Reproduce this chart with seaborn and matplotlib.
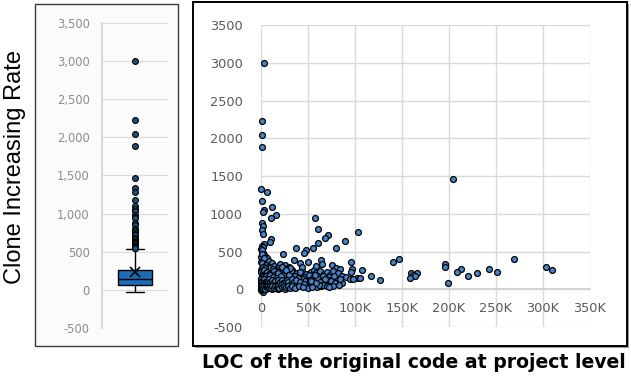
import numpy as np
import pandas as pd
import matplotlib
matplotlib.use("Agg")
import matplotlib.pyplot as plt
from matplotlib.patches import Rectangle
from matplotlib.ticker import FuncFormatter, StrMethodFormatter
import seaborn as sns

# ---- data: (LOC in thousands, clone increasing rate) ----
high_points = [
    (3.2, 3000), (1.4, 2230), (1.4, 2040), (1.4, 1890), (204.6, 1460),
    (0.0, 1330), (6.7, 1285), (1.4, 1176), (11.7, 1096), (3.5, 1053),
    (1.8, 1030), (15.6, 987), (11.0, 950), (57.4, 947), (1.4, 876),
    (2.5, 845), (61, 801), (1.4, 790), (103, 757), (1.8, 735), (71, 722),
    (68, 678), (10.6, 670), (89, 634), (9.6, 625), (61, 612), (3, 600),
    (1, 575), (2, 560), (37, 546), (55.6, 546), (79.5, 546), (0.5, 540),
]
upper_points = [
    (47.9, 524), (45.7, 485), (23, 462), (0.8, 500), (2.2, 480), (1, 455),
    (4, 440), (0.3, 430), (6, 415), (147, 396), (269, 396), (140, 360),
    (35, 383), (64, 383), (2, 390), (8, 375), (0.5, 365), (41, 348),
    (50, 361), (96, 361), (196, 340), (65, 340), (12, 350), (20, 330),
    (3, 335), (75, 317), (25, 320), (14, 305), (30, 300), (196, 295),
    (303, 295), (80, 287), (9, 290), (18, 285), (1.5, 280), (84, 273),
    (96.5, 273), (212.8, 273), (243, 273), (27, 270), (5, 265), (60, 268),
    (33, 262), (16, 262),
]
middle_points = [
    (107, 250), (310, 251), (96, 229), (209, 229), (250.7, 229), (230, 215),
    (160, 215), (166, 215), (162, 190), (220, 172), (164, 170), (117, 172),
    (102, 155), (158, 150), (105, 150),
    (0.5, 250), (2, 240), (4, 230), (7, 245), (10, 235), (13, 250), (17, 225),
    (21, 240), (24, 215), (28, 230), (31, 205), (34, 220), (38, 210),
    (44, 240), (48, 200), (53, 230), (56, 255), (59, 210), (63, 240),
    (67, 200), (70, 225), (73, 190), (77, 245), (82, 210), (86, 175),
    (90, 160), (1, 200), (3, 185), (6, 195), (8, 170), (11, 205), (15, 180),
    (19, 195), (22, 165), (26, 185), (29, 160), (36, 175), (42, 180),
    (46, 160), (51, 190), (55, 150), (62, 165), (66, 180), (72, 160),
    (78, 170), (1.2, 165), (4.5, 155), (9, 150), (12, 175), (20, 210),
    (25, 200), (32, 245),
]
lower_points = [
    (199, 83), (127, 128), (86, 88), (95, 132), (98, 132), (51, 96),
    (0.5, 140), (2, 130), (4, 120), (6, 135), (8, 110), (10, 125), (13, 100),
    (16, 130), (18, 115), (21, 90), (23, 135), (27, 105), (30, 120),
    (33, 95), (36, 80), (40, 110), (45, 130), (49, 100), (54, 90), (58, 120),
    (61, 135), (65, 105), (69, 80), (72, 125), (76, 95), (81, 115),
    (84, 140), (0.3, 100), (1.5, 85), (3, 75), (5, 95), (7, 70), (9.5, 80),
    (11, 140), (14, 70), (17, 85), (19, 140), (22, 75), (24, 110), (26, 130),
    (28, 80), (31, 140), (34, 110), (38, 70), (43, 85), (47, 115), (52, 125),
    (57, 75), (63, 95), (68, 135), (74, 110), (79, 85), (1, 120), (2.5, 105),
]
bottom_points = [
    (74.5, 45), (64, 40), (23.7, 40), (0.2, 0), (0.8, 10), (1.2, 25),
    (2, -30), (3, 5), (4, 50), (5, 20), (6, 35), (7.5, 15), (9, 55),
    (10.5, 30), (12, 10), (13.5, 45), (15, 25), (17, 60), (19, 35),
    (20.5, 15), (22, 55), (25, 25), (27, 45), (29, 60), (32, 30), (35, 50),
    (39, 55), (44, 40), (48, 60), (52, 45), (56, 55), (60, 35), (66, 60),
    (70, 50), (77, 40), (83, 60), (0.4, 55), (1.6, 40), (2.8, 60),
    (3.6, 30), (5.5, 5), (6.5, 50), (8, 60), (11, 45), (14, 35), (16, 50),
    (18, 10), (21, 40), (24, 60), (26, 15), (0.1, -15), (0.6, 30), (1, -5),
    (2.2, 45), (4.5, 35), (12.5, 60), (30, 45), (37, 35), (50, 20),
    (62, 55), (72, 30),
]
# overlapping points in the dense corner near the origin
dense_points = [
    (0.7, 520), (1.3, 470), (3.5, 410), (0.9, 345), (5, 320), (7, 300),
    (10, 280), (13, 275), (2.6, 300), (4, 285), (22, 290), (31, 280),
    (44, 300), (58, 310),
    (0.4, 225), (1.8, 215), (3.2, 250), (5, 210), (6.5, 230), (8.5, 200),
    (11.5, 220), (14, 240), (16, 200), (18.5, 215), (23, 185), (27, 250),
    (30, 190), (0.6, 180), (2.5, 160), (5.5, 175), (7.5, 145), (10, 185),
    (13, 160), (17, 150), (21, 175), (39, 150), (41, 225), (57, 185),
    (0.2, 130), (0.8, 110), (1.4, 95), (2, 75), (3, 135), (3.8, 100),
    (4.8, 80), (6, 115), (7, 95), (8.5, 130), (9.5, 100), (10.5, 70),
    (12, 120), (13, 85), (15, 105), (16.5, 75), (18, 125), (20, 100),
    (22, 120), (23.5, 85), (25, 95), (27.5, 125), (29, 100), (31.5, 75),
    (33, 130), (35, 100), (37, 120), (42, 95), (46, 75), (53, 105), (59, 85),
    (0.3, 20), (0.9, 45), (1.5, 5), (2.3, 20), (3.2, 40), (4, 10), (5, 50),
    (6, 25), (7, 45), (8, 20), (9.5, 40), (11, 20), (12, 50), (13.5, 15),
    (15, 45), (16.5, 30), (18, 50), (19.5, 20), (21, 55), (22.5, 30),
    (24, 45), (25.5, 10), (27, 30), (28.5, 50), (31, 15), (33, 40),
    (36, 20), (40, 45), (45, 25), (54, 35),
]

points = (high_points + upper_points + middle_points + lower_points
          + bottom_points + dense_points)
df = pd.DataFrame(points, columns=["loc_k", "rate"])

x_ticks = [0, 50, 100, 150, 200, 250, 300, 350]
y_ticks = [-500, 0, 500, 1000, 1500, 2000, 2500, 3000, 3500]

W, H = 631, 377


def fig_rect(x0, y0, x1, y1):
    # pixel box (top-left origin) -> figure fraction [l, b, w, h]
    return [x0 / W, 1 - y1 / H, (x1 - x0) / W, (y1 - y0) / H]


sns.set_theme(style="white")
plt.rcParams["font.family"] = ["DejaVu Sans"]
plt.rcParams["axes.unicode_minus"] = False

fig = plt.figure(figsize=(W / 100, H / 100), dpi=100)

# panel frames (behind the axes)
l, b, w, h = fig_rect(35, 4, 178, 346)
fig.patches.append(Rectangle((l, b), w, h, transform=fig.transFigure,
                             facecolor="#fbfbfb", edgecolor="#3a3a3a", lw=1.0, zorder=-10))
l, b, w, h = fig_rect(195, 4, 629, 348)
fig.patches.append(Rectangle((l, b), w, h, transform=fig.transFigure,
                             facecolor="#9a9a9a", edgecolor="none", zorder=-11))
l, b, w, h = fig_rect(193, 2, 627, 346)
fig.patches.append(Rectangle((l, b), w, h, transform=fig.transFigure,
                             facecolor="white", edgecolor="black", lw=1.4, zorder=-10))

# ---- left: box plot ----
ax_box = fig.add_axes(fig_rect(102, 22.7, 168, 328))
ax_box.set_facecolor("none")
sns.boxplot(y=df["rate"], ax=ax_box, width=0.52, color="#1c6cb8",
            saturation=1, linecolor="black", linewidth=1,
            showmeans=True,
            meanprops=dict(marker="x", markeredgecolor="black", markersize=7,
                           markeredgewidth=1.2),
            flierprops=dict(marker="o", markerfacecolor="#1f4e79",
                            markeredgecolor="black", markersize=4.2,
                            markeredgewidth=0.8))
ax_box.set_xlim(-0.5, 0.5)
ax_box.set_ylim(-500, 3500)
ax_box.set_yticks(y_ticks)
ax_box.yaxis.set_major_formatter(StrMethodFormatter("{x:,.0f}"))
ax_box.set_xticks([])
ax_box.set_xlabel("")
ax_box.set_ylabel("")
ax_box.grid(axis="y", color="#dcdcdc", lw=0.9)
ax_box.set_axisbelow(True)
for side in ["top", "right", "bottom"]:
    ax_box.spines[side].set_visible(False)
ax_box.spines["left"].set_color("#d4d4d4")
ax_box.tick_params(axis="y", length=0, pad=9, labelsize=8.3, labelcolor="#8c8c8c")

# ---- right: scatter ----
ax = fig.add_axes(fig_rect(261, 25.3, 590, 327))
ax.set_facecolor("none")
sns.scatterplot(data=df, x="loc_k", y="rate", ax=ax, s=18, color="#4686cc",
                edgecolor="black", linewidth=0.9, zorder=3, clip_on=False)
ax.set_xlim(0, 350)
ax.set_ylim(-500, 3500)
ax.set_xticks(x_ticks)
ax.set_yticks(y_ticks)
ax.xaxis.set_major_formatter(FuncFormatter(lambda v, p: "0" if v == 0 else f"{int(v)}K"))
ax.grid(True, color="#d9d9d9", lw=1.0)
ax.set_axisbelow(True)
for side in ["top", "right", "left"]:
    ax.spines[side].set_visible(False)
ax.spines["bottom"].set_position(("data", 0))
ax.spines["bottom"].set_color("#d0d0d0")
ax.tick_params(axis="x", length=0, pad=9, labelsize=9.3, labelcolor="#595959")
ax.tick_params(axis="y", length=0, pad=13, labelsize=9.3, labelcolor="#595959")
ax.set_xlabel("")
ax.set_ylabel("")

# axis titles
fig.text(15 / W, 1 - 167 / H, "Clone Increasing Rate", rotation=90,
         ha="center", va="center", fontsize=17, color="black",
         family="Liberation Sans")
fig.text(414 / W, 1 - 362 / H, "LOC of the original code at project level",
         ha="center", va="center", fontsize=13.6, fontweight="bold", color="black")

fig.savefig("out.png", dpi=100)
